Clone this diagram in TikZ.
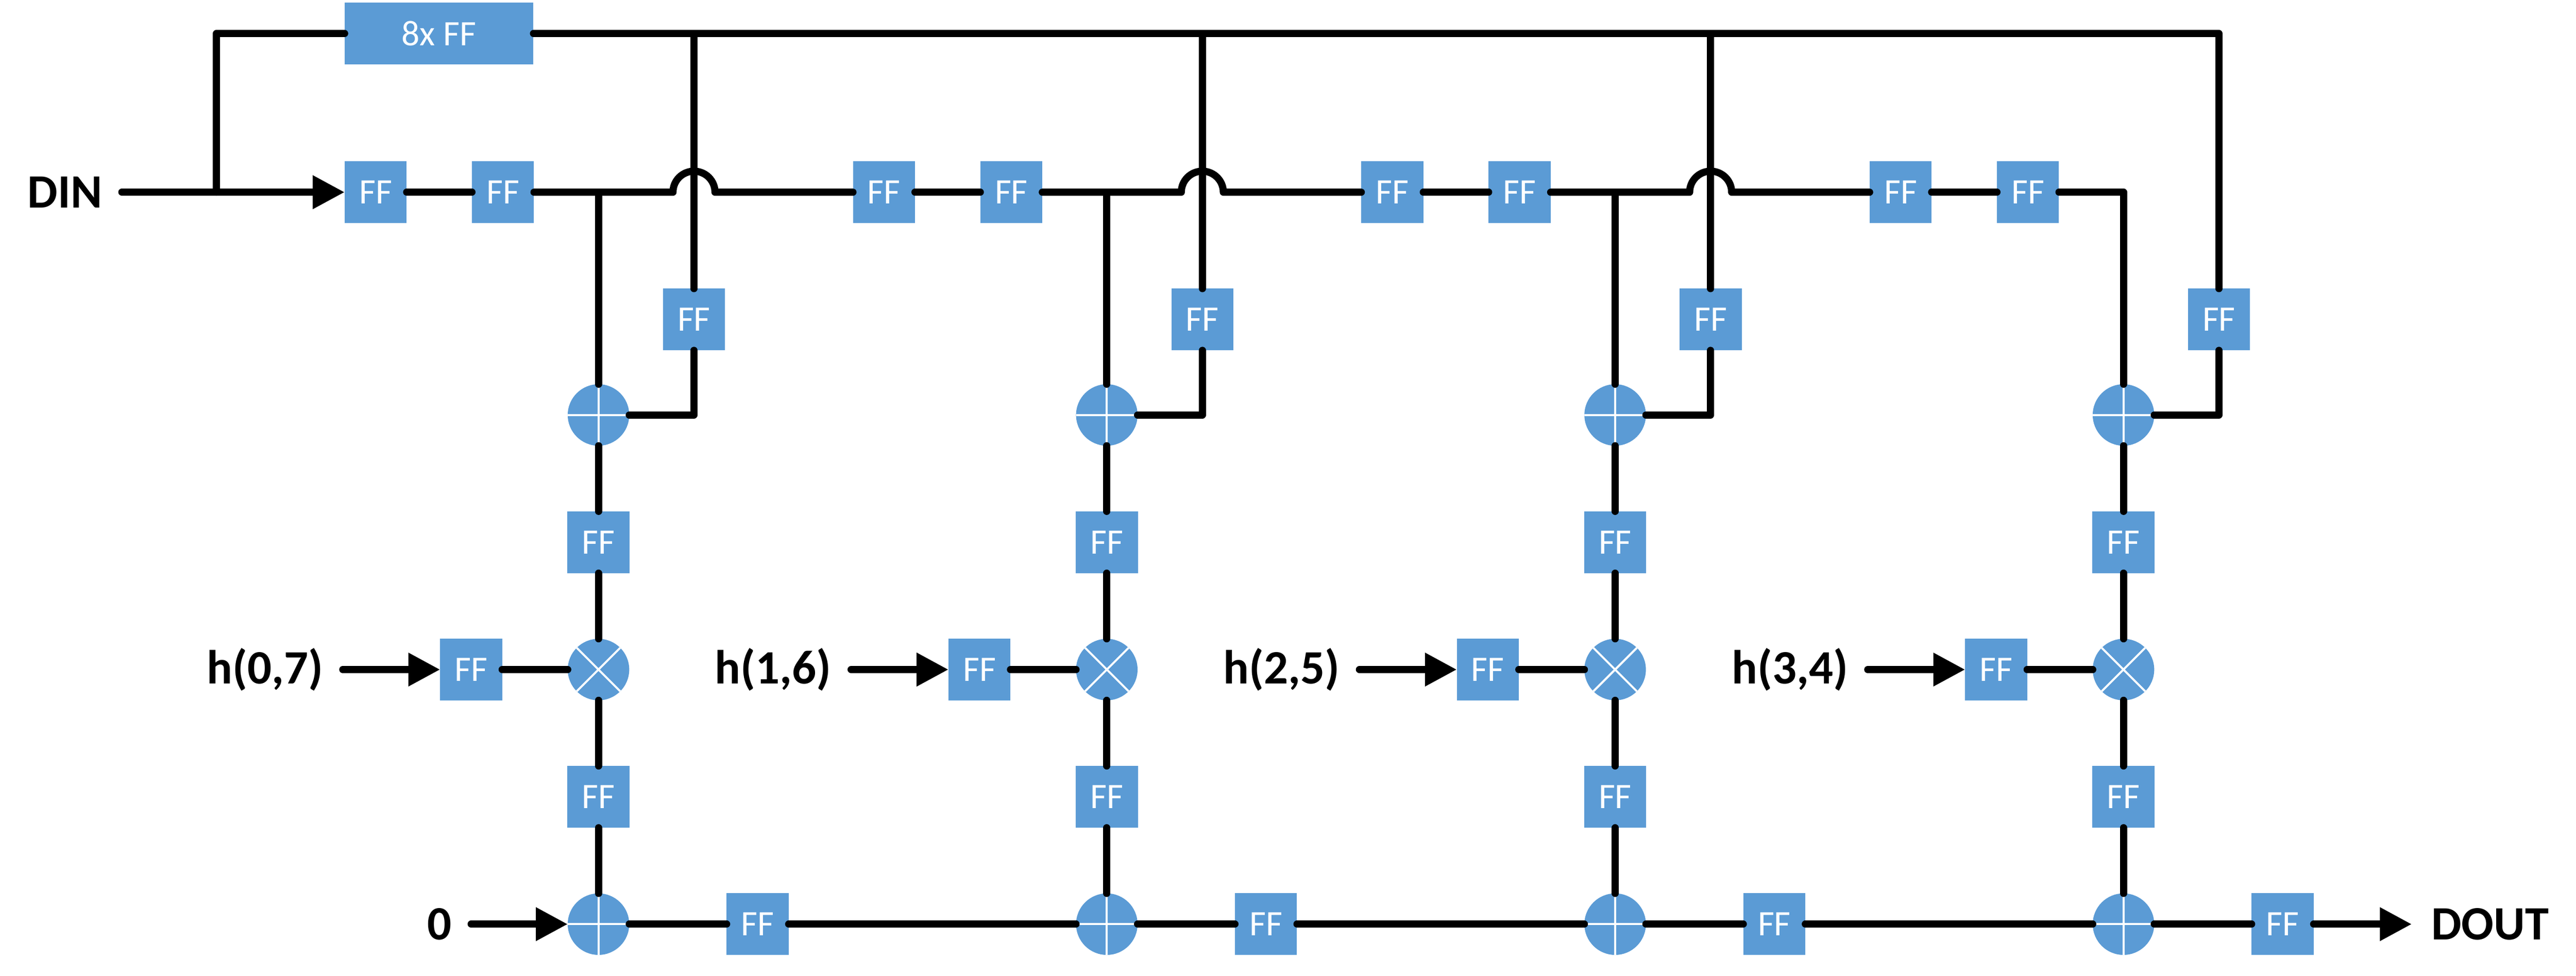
\documentclass[tikz,border=0pt]{standalone}
\usepackage{fontspec}
\setmainfont{Carlito}
\usetikzlibrary{positioning,arrows.meta,calc}

\definecolor{ffblue}{HTML}{5B9BD5}

\begin{document}
\begin{tikzpicture}[on grid,node distance=1cm,line width=1.6pt,line cap=round,line join=round,
    >={Triangle[length=2.5mm,width=2.5mm]}]

  \tikzset{
    ff/.style={fill=ffblue,text=white,inner sep=0pt,outer sep=0pt,minimum width=.487cm,minimum height=.485cm,font=\fontsize{8}{8}\selectfont},
    ffwide/.style={ff,minimum width=1.483cm},
    opnode/.style={circle,fill=ffblue,inner sep=0pt,outer sep=0pt,minimum size=.483cm},
    adder/.style={opnode,path picture={
      \draw[white,line width=.45pt,line cap=butt] (path picture bounding box.north) -- (path picture bounding box.south);
      \draw[white,line width=.45pt,line cap=butt] (path picture bounding box.west) -- (path picture bounding box.east);}},
    mult/.style={opnode,path picture={
      \draw[white,line width=.45pt,line cap=butt] (path picture bounding box.north west) -- (path picture bounding box.south east);
      \draw[white,line width=.45pt,line cap=butt] (path picture bounding box.south west) -- (path picture bounding box.north east);}},
    sig/.style={inner sep=4.4pt,outer sep=0pt,font=\bfseries\fontsize{10.7}{10.7}\selectfont},
  }

  \useasboundingbox (0,0) rectangle (20.23,-7.6667);

  % first tap
  \node[ff] (ffa1) at (2.95,-1.51) {FF};
  \node[ff] (ffa2) [right=of ffa1] {FF};
  \coordinate[right=.75cm of ffa2] (ta);
  \coordinate[right=1.5cm of ffa2] (ja);
  \node[ff] (fba) [below right=1cm and 1.5cm of ffa2] {FF};
  \node[adder] (ada) [below right=1.75cm and .75cm of ffa2] {};
  \node[ff] (ffa3) [below=of ada] {FF};
  \node[mult] (mua) [below=of ffa3] {};
  \node[ff] (ffa4) [below=of mua] {FF};
  \node[adder] (sua) [below=of ffa4] {};
  \node[ff] (ffa5) [left=of mua] {FF};
  \node[ff] (ffa6) [right=1.25cm of sua] {FF};

  \node[sig] (din) [left=2.44cm of ffa1] {DIN};
  \coordinate[left=1.25cm of ffa1] (br);
  \node[ffwide] (ff8) [above right=1.2467cm and .498cm of ffa1] {8x FF};
  \node[sig] (ha) [left=1.62cm of ffa5] {h(0,7)};
  \node[sig] (zero) [left=1.25cm of sua] {0};

  % second tap
  \node[ff] (ffb1) [right=3.992cm of ffa1] {FF};
  \node[ff] (ffb2) [right=of ffb1] {FF};
  \coordinate[right=.75cm of ffb2] (tb);
  \coordinate[right=1.5cm of ffb2] (jb);
  \node[ff] (fbb) [below right=1cm and 1.5cm of ffb2] {FF};
  \node[adder] (adb) [below right=1.75cm and .75cm of ffb2] {};
  \node[ff] (ffb3) [below=of adb] {FF};
  \node[mult] (mub) [below=of ffb3] {};
  \node[ff] (ffb4) [below=of mub] {FF};
  \node[adder] (sub) [below=of ffb4] {};
  \node[ff] (ffb5) [left=of mub] {FF};
  \node[ff] (ffb6) [right=1.25cm of sub] {FF};
  \node[sig] (hb) [left=1.62cm of ffb5] {h(1,6)};

  % third tap
  \node[ff] (ffc1) [right=3.992cm of ffb1] {FF};
  \node[ff] (ffc2) [right=of ffc1] {FF};
  \coordinate[right=.75cm of ffc2] (tc);
  \coordinate[right=1.5cm of ffc2] (jc);
  \node[ff] (fbc) [below right=1cm and 1.5cm of ffc2] {FF};
  \node[adder] (adc) [below right=1.75cm and .75cm of ffc2] {};
  \node[ff] (ffc3) [below=of adc] {FF};
  \node[mult] (muc) [below=of ffc3] {};
  \node[ff] (ffc4) [below=of muc] {FF};
  \node[adder] (suc) [below=of ffc4] {};
  \node[ff] (ffc5) [left=of muc] {FF};
  \node[ff] (ffc6) [right=1.25cm of suc] {FF};
  \node[sig] (hc) [left=1.62cm of ffc5] {h(2,5)};

  % fourth tap
  \node[ff] (ffd1) [right=3.992cm of ffc1] {FF};
  \node[ff] (ffd2) [right=of ffd1] {FF};
  \node[ff] (fbd) [below right=1cm and 1.5cm of ffd2] {FF};
  \node[adder] (add) [below right=1.75cm and .75cm of ffd2] {};
  \node[ff] (ffd3) [below=of add] {FF};
  \node[mult] (mud) [below=of ffd3] {};
  \node[ff] (ffd4) [below=of mud] {FF};
  \node[adder] (sud) [below=of ffd4] {};
  \node[ff] (ffd5) [left=of mud] {FF};
  \node[ff] (ffd6) [right=1.25cm of sud] {FF};
  \node[sig] (hd) [left=1.62cm of ffd5] {h(3,4)};
  \node[sig] (dout) [right=1.63cm of ffd6] {DOUT};

  % delay line with jumps
  \draw[->] (din) -- (ffa1);
  \draw (ffa1) -- (ffa2);
  \draw (ffa2) -- ($(ja)+(-.165,0)$) arc[start angle=180,end angle=0,radius=.165] -- (ffb1);
  \draw (ffb1) -- (ffb2);
  \draw (ffb2) -- ($(jb)+(-.165,0)$) arc[start angle=180,end angle=0,radius=.165] -- (ffc1);
  \draw (ffc1) -- (ffc2);
  \draw (ffc2) -- ($(jc)+(-.165,0)$) arc[start angle=180,end angle=0,radius=.165] -- (ffd1);
  \draw (ffd1) -- (ffd2);
  \draw (ffd2) -| (add);

  % top bus
  \draw (br) |- (ff8);
  \draw (ff8) -| (fbd);
  \draw (fba) -- (fba |- ff8);
  \draw (fbb) -- (fbb |- ff8);
  \draw (fbc) -- (fbc |- ff8);

  % feedback
  \draw (ada) -| (fba);
  \draw (adb) -| (fbb);
  \draw (adc) -| (fbc);
  \draw (add) -| (fbd);

  % columns
  \draw (ta) -- (ada);
  \draw (ada) -- (ffa3);
  \draw (ffa3) -- (mua);
  \draw (mua) -- (ffa4);
  \draw (ffa4) -- (sua);
  \draw (tb) -- (adb);
  \draw (adb) -- (ffb3);
  \draw (ffb3) -- (mub);
  \draw (mub) -- (ffb4);
  \draw (ffb4) -- (sub);
  \draw (tc) -- (adc);
  \draw (adc) -- (ffc3);
  \draw (ffc3) -- (muc);
  \draw (muc) -- (ffc4);
  \draw (ffc4) -- (suc);
  \draw (add) -- (ffd3);
  \draw (ffd3) -- (mud);
  \draw (mud) -- (ffd4);
  \draw (ffd4) -- (sud);

  % coefficients
  \draw[->] (ha) -- (ffa5);
  \draw (ffa5) -- (mua);
  \draw[->] (hb) -- (ffb5);
  \draw (ffb5) -- (mub);
  \draw[->] (hc) -- (ffc5);
  \draw (ffc5) -- (muc);
  \draw[->] (hd) -- (ffd5);
  \draw (ffd5) -- (mud);

  % sum line
  \draw[->] (zero) -- (sua);
  \draw (sua) -- (ffa6);
  \draw (ffa6) -- (sub);
  \draw (sub) -- (ffb6);
  \draw (ffb6) -- (suc);
  \draw (suc) -- (ffc6);
  \draw (ffc6) -- (sud);
  \draw (sud) -- (ffd6);
  \draw[->] (ffd6) -- (dout);
\end{tikzpicture}
\end{document}
